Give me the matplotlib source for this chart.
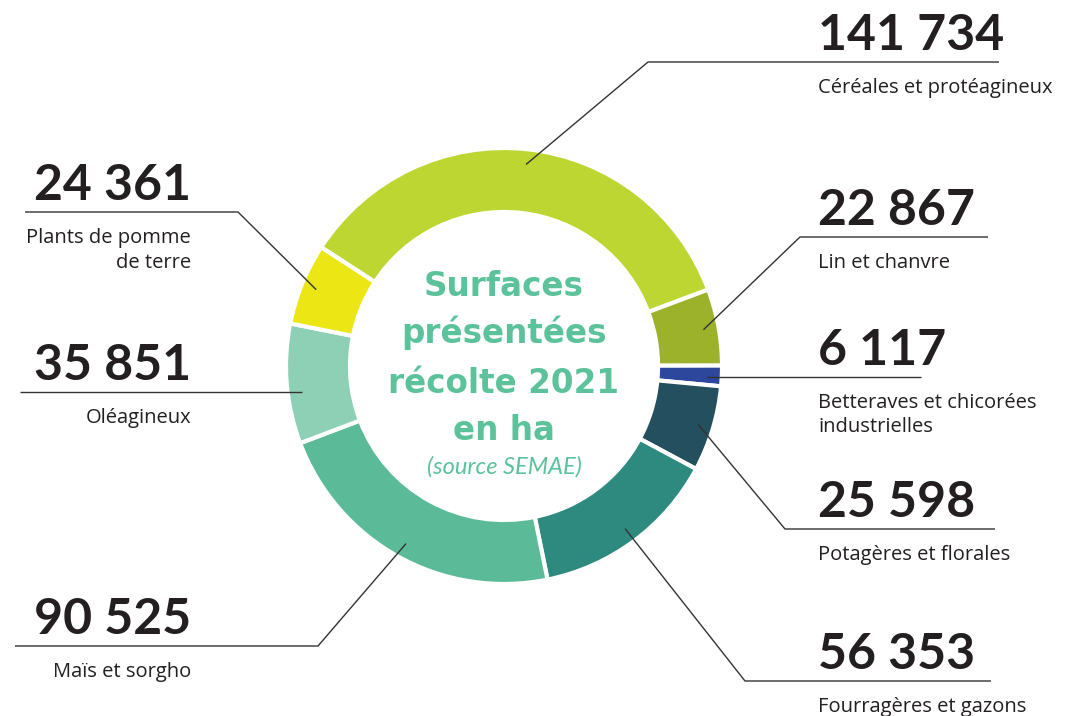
import numpy as np
import matplotlib.pyplot as plt

# Données (surfaces en ha, récolte 2021, source SEMAE)
categories = ["Céréales et protéagineux", "Lin et chanvre",
              "Betteraves et chicorées\nindustrielles", "Potagères et florales",
              "Fourragères et gazons", "Maïs et sorgho", "Oléagineux",
              "Plants de pomme\nde terre"]
valeurs = [141734, 22867, 6117, 25598, 56353, 90525, 35851, 24361]
couleurs = ["#BDD631", "#9CB22A", "#2C479C", "#244F5E",
            "#2E8A7F", "#5BBA98", "#8ED0B6", "#ECE614"]

# Mise en page des étiquettes (pixels, origine en haut à gauche)
# cote, x texte, y ligne, x coude, x fin de ligne
placement = [
    ("d", 818, 62, 648, 999),
    ("d", 818, 237, 800, 988),
    ("d", 818, 377, None, 921),
    ("d", 818, 529, 785, 995),
    ("d", 818, 681, 745, 991),
    ("g", 191, 646, 318, 15),
    ("g", 191, 392, None, 20),
    ("g", 191, 212, 238, 25),
]

W, H = 1067, 716
cx, cy, R = 504, 366, 218
encre = "#231F20"
vert = "#5CC29B"

fig = plt.figure(figsize=(W / 100, H / 100), dpi=100)
ax = fig.add_axes([0, 0, 1, 1])

wedges, _ = ax.pie(valeurs, colors=couleurs, startangle=147, counterclock=False,
                   radius=R, center=(cx, H - cy),
                   wedgeprops=dict(width=64, edgecolor="white", linewidth=3))
ax.set_aspect("auto")
ax.set_xlim(0, W)
ax.set_ylim(0, H)
ax.axis("off")


def fmt(v):
    return f"{v:,}".replace(",", " ")


for w, cat, val, (cote, xt, yl, xc, xe) in zip(wedges, categories, valeurs, placement):
    ang = np.deg2rad((w.theta1 + w.theta2) / 2)
    ax_x = cx + 0.93 * R * np.cos(ang)
    ax_y = cy - 0.93 * R * np.sin(ang)
    if xc is None:
        xs = [ax_x, xe]
        ys = [yl, yl]
    else:
        xs = [ax_x, xc, xe]
        ys = [ax_y, yl, yl]
    ax.plot(xs, [H - y for y in ys], color="#333333", lw=1.0, solid_capstyle="butt")

    ha = "left" if cote == "d" else "right"
    ax.text(xt, H - (yl - 12), fmt(val), ha=ha, va="baseline",
            fontsize=36, fontweight="bold", family="Lato", color=encre)
    ax.text(xt, H - (yl + 16), cat, ha=ha, va="top", fontsize=14.5,
            family="Open Sans", color=encre, linespacing=1.3, multialignment=ha)

# Titre au centre de l'anneau
titre = ["Surfaces", "présentées", "récolte 2021", "en ha"]
y_titre = [296, 343, 393, 440]
for t, y in zip(titre, y_titre):
    ax.text(cx, H - y, t, ha="center", va="baseline", fontsize=23.5,
            fontweight="bold", family="DejaVu Sans", color=vert)
ax.text(cx, H - 474, "(source SEMAE)", ha="center", va="baseline", fontsize=17,
        style="italic", family="Lato", color=vert)

fig.savefig("out.png", dpi=100, facecolor="white")
